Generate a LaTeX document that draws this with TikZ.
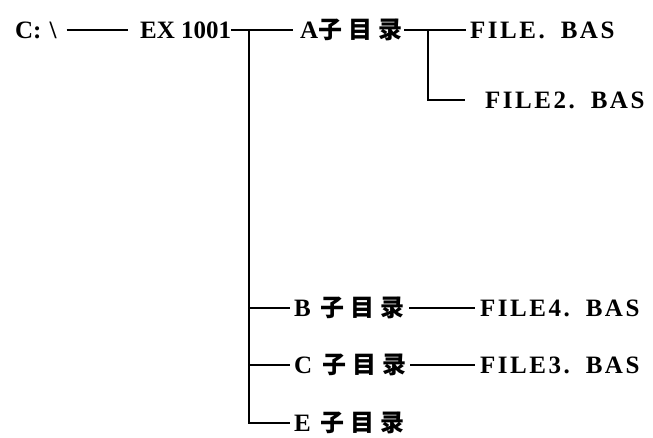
\documentclass[tikz,border=0pt]{standalone}
\usepackage{fontspec}
\setmainfont{Liberation Serif}
\newfontfamily\lsp{Liberation Serif}[LetterSpace=10]
\newfontfamily\cjk{Noto Sans CJK SC}
\newcommand\zml{{\cjk\fontsize{24}{24}\selectfont 子\hspace{6pt}目\hspace{6pt}录}}
\newcommand\fname[1]{{\lsp FILE#1.\hspace{16pt}BAS}}
\tikzset{
  lbl/.style={anchor=west, inner sep=0pt, text height=18pt, text depth=2pt,
              font=\fontsize{25}{25}\selectfont\bfseries},
  conn/.style={line width=1.6pt}
}
\begin{document}
\begin{tikzpicture}[x=1pt,y=-1pt]
\useasboundingbox (0,0) rectangle (653,437);
\node[lbl] (root) at (15,30) {C:\hspace{8pt}\textbackslash};
\node[lbl] (ex) at (140,30) {EX 1001};
\node[lbl] (a) at (300,30) {A\zml};
\node[lbl] (f1) at (470,30) {\fname{}};
\node[lbl] (f2) at (485,100) {\fname{2}};
\node[lbl] (b) at (294,308) {B\hspace{10pt}\zml};
\node[lbl] (f4) at (480,308) {\fname{4}};
\node[lbl] (cdir) at (294,365) {C\hspace{10pt}\zml};
\node[lbl] (f3) at (480,365) {\fname{3}};
\node[lbl] (e) at (294,423) {E\hspace{10pt}\zml};
\coordinate (j1) at (249,30);
\coordinate (j2) at (428,30);
\draw[conn, shorten <=10pt, shorten >=12pt] (root.east) -- (ex.west);
\draw[conn, shorten >=7pt] (ex.east) -- (a.west);
\draw[conn, shorten >=4pt] (j1) |- (b.west);
\draw[conn, shorten >=4pt] (j1) |- (cdir.west);
\draw[conn, shorten >=4pt] (j1) |- (e.west);
\draw[conn, shorten <=2pt, shorten >=4pt] (a.east) -- (f1.west);
\draw[conn, shorten >=20pt] (j2) |- (f2.west);
\draw[conn, shorten <=4pt, shorten >=5pt] (b.east) -- (f4.west);
\draw[conn, shorten <=4pt, shorten >=5pt] (cdir.east) -- (f3.west);
\end{tikzpicture}
\end{document}
